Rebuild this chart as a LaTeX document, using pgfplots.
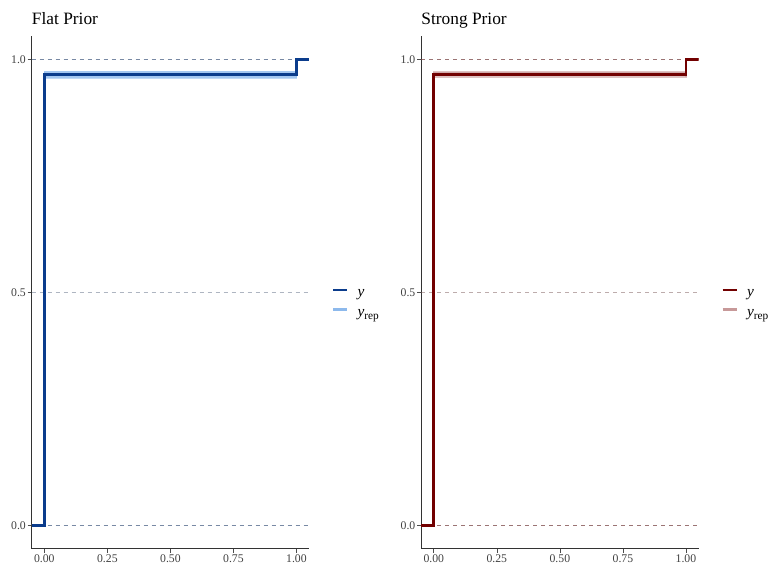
\documentclass[border=0pt]{standalone}
\usepackage{fontspec}
\setmainfont{Liberation Serif}
\usepackage{pgfplots}
\pgfplotsset{compat=1.18}
\definecolor{bdh}{HTML}{0B3C8C}
\definecolor{blh}{HTML}{8DB9EC}
\definecolor{rdh}{HTML}{720000}
\definecolor{rlh}{HTML}{C79999}
\pgfplotsset{
 ecdfpanel/.style={
  scale only axis, width=208pt, height=384.5pt,
  xmin=-0.05, xmax=1.05, ymin=-0.05, ymax=1.05,
  axis x line*=bottom, axis y line*=left,
  axis line style={-, black!80, line width=0.7pt},
  xtick={0,0.25,0.5,0.75,1}, ytick={0,0.5,1},
  xticklabel style={inner sep=1.5pt, /pgf/number format/.cd, fixed, fixed zerofill, precision=2},
  yticklabel style={inner sep=1.2pt, /pgf/number format/.cd, fixed, fixed zerofill, precision=1},
  /pgf/number format/assume math mode=true,
  tick label style={font=\fontsize{8.8}{10}\selectfont, text=black!75},
  tick align=outside, major tick length=3pt, tick style={black!70, line width=0.5pt},
  every axis title shift=0pt,
  title style={at={(0,1)}, anchor=base west, yshift=8.25pt, font=\fontsize{13}{15}\selectfont, inner sep=0pt},
  legend style={at={(1,0.4785)}, anchor=west, xshift=17pt, draw=none, fill=none, inner sep=0pt,
    font=\fontsize{11.5}{12}\selectfont, row sep=4.5pt,
    nodes={inner sep=0pt, text height=7.5pt, text depth=2.5pt},
    /tikz/every odd column/.append style={column sep=7pt}},
  legend cell align=left,
  legend image code/.code={\draw[##1] (0pt,2.5pt) -- (10.5pt,2.5pt);},
 }
}
\newcommand{\yrep}{\textit{y}\raisebox{-0.4ex}{\fontsize{8.5}{8}\selectfont rep}}
\begin{document}
\begin{tikzpicture}
\path[use as bounding box] (0,0) rectangle (578.25pt,425.25pt);
% ---------------- Flat Prior ----------------
\begin{axis}[ecdfpanel, at={(23.8pt,13.8pt)}, anchor=south west, title={Flat Prior}]
\addlegendimage{bdh, line width=1.4pt}
\addlegendentry{\textit{y}}
\addlegendimage{blh, line width=1.7pt}
\addlegendentry{\yrep}
\addplot[forget plot, bdh!45!gray, opacity=0.75, line width=0.45pt, dash pattern=on 3pt off 3pt] coordinates {(-0.05,0) (1.05,0)};
\addplot[forget plot, bdh!30!gray, opacity=0.5, line width=0.35pt, dash pattern=on 3pt off 3pt] coordinates {(-0.05,0.5) (1.05,0.5)};
\addplot[forget plot, bdh!45!gray, opacity=0.75, line width=0.45pt, dash pattern=on 3pt off 3pt] coordinates {(-0.05,1) (1.05,1)};
\addplot[forget plot, blh, opacity=0.55, line width=1.2pt] coordinates {(-0.05,0) (0,0) (0,0.960) (1,0.960) (1,1) (1.05,1)};
\addplot[forget plot, blh, opacity=0.55, line width=1.2pt] coordinates {(-0.05,0) (0,0) (0,0.962) (1,0.962) (1,1) (1.05,1)};
\addplot[forget plot, blh, opacity=0.55, line width=1.2pt] coordinates {(-0.05,0) (0,0) (0,0.964) (1,0.964) (1,1) (1.05,1)};
\addplot[forget plot, blh, opacity=0.55, line width=1.2pt] coordinates {(-0.05,0) (0,0) (0,0.966) (1,0.966) (1,1) (1.05,1)};
\addplot[forget plot, blh, opacity=0.55, line width=1.2pt] coordinates {(-0.05,0) (0,0) (0,0.968) (1,0.968) (1,1) (1.05,1)};
\addplot[forget plot, blh, opacity=0.55, line width=1.2pt] coordinates {(-0.05,0) (0,0) (0,0.970) (1,0.970) (1,1) (1.05,1)};
\addplot[forget plot, blh, opacity=0.55, line width=1.2pt] coordinates {(-0.05,0) (0,0) (0,0.972) (1,0.972) (1,1) (1.05,1)};
\addplot[forget plot, blh, opacity=0.55, line width=1.2pt] coordinates {(-0.05,0) (0,0) (0,0.974) (1,0.974) (1,1) (1.05,1)};
\addplot[forget plot, bdh, line width=2pt] coordinates {(-0.05,0) (0,0) (0,0.967) (1,0.967) (1,1) (1.05,1)};
\end{axis}
% ---------------- Strong Prior ----------------
\begin{axis}[ecdfpanel, at={(315.9pt,13.8pt)}, anchor=south west, title={Strong Prior}]
\addlegendimage{rdh, line width=1.4pt}
\addlegendentry{\textit{y}}
\addlegendimage{rlh, line width=1.7pt}
\addlegendentry{\yrep}
\addplot[forget plot, rdh!45!gray, opacity=0.75, line width=0.45pt, dash pattern=on 3pt off 3pt] coordinates {(-0.05,0) (1.05,0)};
\addplot[forget plot, rdh!30!gray, opacity=0.5, line width=0.35pt, dash pattern=on 3pt off 3pt] coordinates {(-0.05,0.5) (1.05,0.5)};
\addplot[forget plot, rdh!45!gray, opacity=0.75, line width=0.45pt, dash pattern=on 3pt off 3pt] coordinates {(-0.05,1) (1.05,1)};
\addplot[forget plot, rlh, opacity=0.6, line width=1.2pt] coordinates {(-0.05,0) (0,0) (0,0.961) (1,0.961) (1,1) (1.05,1)};
\addplot[forget plot, rlh, opacity=0.6, line width=1.2pt] coordinates {(-0.05,0) (0,0) (0,0.964) (1,0.964) (1,1) (1.05,1)};
\addplot[forget plot, rlh, opacity=0.6, line width=1.2pt] coordinates {(-0.05,0) (0,0) (0,0.967) (1,0.967) (1,1) (1.05,1)};
\addplot[forget plot, rlh, opacity=0.6, line width=1.2pt] coordinates {(-0.05,0) (0,0) (0,0.970) (1,0.970) (1,1) (1.05,1)};
\addplot[forget plot, rlh, opacity=0.6, line width=1.2pt] coordinates {(-0.05,0) (0,0) (0,0.972) (1,0.972) (1,1) (1.05,1)};
\addplot[forget plot, rdh, line width=2pt] coordinates {(-0.05,0) (0,0) (0,0.967) (1,0.967) (1,1) (1.05,1)};
\end{axis}
\end{tikzpicture}
\end{document}
